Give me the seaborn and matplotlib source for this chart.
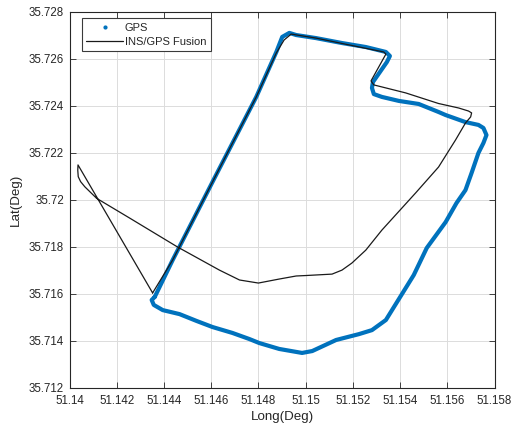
import matplotlib
matplotlib.use("Agg")
import matplotlib.pyplot as plt
import seaborn as sns
import pandas as pd
from matplotlib.lines import Line2D

# ---- data ----
gps_lon = [51.14361, 51.14348, 51.14357, 51.14395, 51.14466, 51.14538, 51.14606, 51.14690,
           51.14762, 51.14804, 51.14888, 51.14985, 51.15028, 51.15129, 51.15226, 51.15281,
           51.15340, 51.15395, 51.15458, 51.15513, 51.15593, 51.15639, 51.15677, 51.15703,
           51.15732, 51.15753, 51.15766, 51.15753, 51.15732, 51.15677, 51.15593, 51.15563,
           51.15479, 51.15395, 51.15323, 51.15289, 51.15281, 51.15285, 51.15344, 51.15357,
           51.15340, 51.15255, 51.15154, 51.15044, 51.14960, 51.14931, 51.14901, 51.14876,
           51.14791, 51.14614, 51.14437, 51.14361]
gps_lat = [35.71587, 35.71574, 35.71553, 35.71531, 35.71514, 35.71485, 35.71459, 35.71434,
           35.71408, 35.71391, 35.71366, 35.71349, 35.71357, 35.71404, 35.71429, 35.71446,
           35.71489, 35.71578, 35.71680, 35.71795, 35.71905, 35.71986, 35.72041, 35.72114,
           35.72199, 35.72241, 35.72275, 35.72305, 35.72318, 35.72330, 35.72360, 35.72373,
           35.72407, 35.72420, 35.72437, 35.72449, 35.72475, 35.72500, 35.72585, 35.72611,
           35.72628, 35.72649, 35.72666, 35.72687, 35.72700, 35.72709, 35.72692, 35.72628,
           35.72437, 35.72092, 35.71744, 35.71587]

fus_lon = [51.14352, 51.14036, 51.14035, 51.14037, 51.14047, 51.14065, 51.14115, 51.14255,
           51.14458, 51.14635, 51.14720, 51.14800, 51.14888, 51.14960, 51.15002, 51.15112,
           51.15154, 51.15196, 51.15255, 51.15323, 51.15466, 51.15563, 51.15635, 51.15677,
           51.15699, 51.15703, 51.15690, 51.15648, 51.15563, 51.15424, 51.15289, 51.15277,
           51.15340, 51.15331, 51.15184, 51.15044, 51.14939, 51.14909, 51.14876, 51.14791,
           51.14614, 51.14437, 51.14352]
fus_lat = [35.71604, 35.72148, 35.72126, 35.72098, 35.72077, 35.72055, 35.72006, 35.71922,
           35.71799, 35.71701, 35.71659, 35.71646, 35.71663, 35.71676, 35.71678, 35.71684,
           35.71701, 35.71731, 35.71786, 35.71871, 35.72029, 35.72139, 35.72254, 35.72326,
           35.72352, 35.72369, 35.72377, 35.72390, 35.72409, 35.72454, 35.72488, 35.72505,
           35.72619, 35.72628, 35.72658, 35.72687, 35.72704, 35.72679, 35.72624, 35.72437,
           35.72092, 35.71744, 35.71604]

x_ticks = [51.140, 51.142, 51.144, 51.146, 51.148, 51.150, 51.152, 51.154, 51.156, 51.158]
x_tick_labels = ["51.14", "51.142", "51.144", "51.146", "51.148", "51.15",
                 "51.152", "51.154", "51.156", "51.158"]
y_ticks = [35.712, 35.714, 35.716, 35.718, 35.720, 35.722, 35.724, 35.726, 35.728]
y_tick_labels = ["35.712", "35.714", "35.716", "35.718", "35.72", "35.722",
                 "35.724", "35.726", "35.728"]
series_names = ["GPS", "INS/GPS Fusion"]

# ---- figure ----
sns.set_theme(style="whitegrid")
plt.rcParams['font.family'] = ['Liberation Sans', 'DejaVu Sans']

fig = plt.figure(figsize=(5.13, 4.29), dpi=100)
ax = fig.add_axes([69.5 / 513, 1 - 388 / 429, (494.5 - 69.5) / 513, (388 - 11.5) / 429])

gps_df = pd.DataFrame({"lon": gps_lon, "lat": gps_lat})
fus_df = pd.DataFrame({"lon": fus_lon, "lat": fus_lat})

blue = "#0072BD"
sns.lineplot(data=gps_df, x="lon", y="lat", sort=False, estimator=None,
             color=blue, linewidth=3.0, ax=ax, legend=False, zorder=2)
sns.lineplot(data=fus_df, x="lon", y="lat", sort=False, estimator=None,
             color="#1a1a1a", linewidth=0.9, ax=ax, legend=False, zorder=3)

ax.set_xlim(51.140, 51.158)
ax.set_ylim(35.712, 35.728)
ax.set_xticks(x_ticks)
ax.set_xticklabels(x_tick_labels)
ax.set_yticks(y_ticks)
ax.set_yticklabels(y_tick_labels)

text_color = "#262626"
ax.set_facecolor("white")
ax.grid(True, color="#dcdcdc", linewidth=0.7)
for s in ax.spines.values():
    s.set_visible(True)
    s.set_color(text_color)
    s.set_linewidth(0.8)
ax.tick_params(axis="both", which="both", direction="in", length=4, width=0.6,
               colors=text_color, labelsize=8.3, top=True, right=True,
               bottom=True, left=True)
ax.tick_params(axis="x", pad=5)
ax.tick_params(axis="y", pad=4)
ax.set_xlabel("Long(Deg)", fontsize=9.6, color=text_color, labelpad=3)
ax.set_ylabel("Lat(Deg)", fontsize=9.6, color=text_color, labelpad=5)

handles = [Line2D([], [], color=blue, marker=".", linestyle="None", markersize=4),
           Line2D([], [], color="#1a1a1a", linewidth=0.9)]
leg = ax.legend(handles, series_names, loc="upper left",
                bbox_to_anchor=(0.029, 0.982), fontsize=8, frameon=True,
                fancybox=False, edgecolor="#3a3a3a", framealpha=1,
                borderpad=0.4, labelspacing=0.35, handlelength=3.3,
                handletextpad=0.15, borderaxespad=0)
leg.get_frame().set_linewidth(0.8)
for t in leg.get_texts():
    t.set_color(text_color)

fig.savefig("out.png", dpi=100, facecolor="white")
